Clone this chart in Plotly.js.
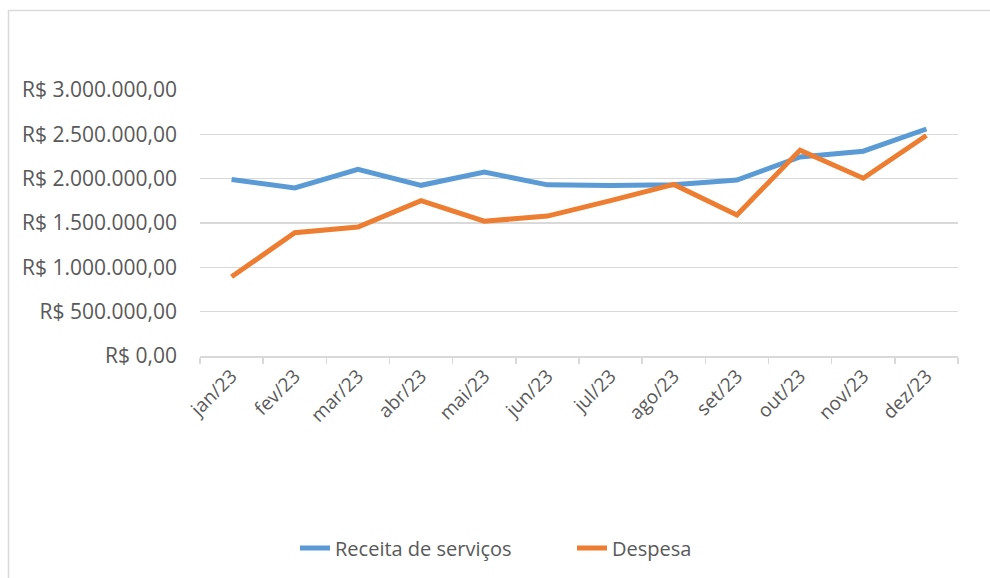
<!DOCTYPE html>
<html>
<head>
<meta charset="utf-8">
<script src="https://cdn.plot.ly/plotly-3.0.1.min.js"></script>
<style>
  html, body { margin: 0; padding: 0; background: #fff; }
  #chart { width: 990px; height: 578px; }
</style>
</head>
<body>
<div id="chart"></div>
<script>
const months = ["jan/23","fev/23","mar/23","abr/23","mai/23","jun/23","jul/23","ago/23","set/23","out/23","nov/23","dez/23"];
const receita = [1990000, 1895000, 2105000, 1925000, 2075000, 1930000, 1922000, 1932000, 1985000, 2245000, 2310000, 2560000];
const despesa = [893000, 1390000, 1455000, 1752000, 1520000, 1578000, 1752000, 1935000, 1590000, 2322000, 2005000, 2487000];
const seriesNames = ["Receita de serviços", "Despesa"];

const textColor = "#595959";
const gridColor = "#d9d9d9";
const fontFam = "'Open Sans', 'Noto Sans', sans-serif";

const traces = [
  { x: months, y: receita, name: seriesNames[0], type: "scatter", mode: "lines",
    line: { color: "#5B9BD5", width: 5 }, legend: "legend" },
  { x: months, y: despesa, name: seriesNames[1], type: "scatter", mode: "lines",
    line: { color: "#ED7D31", width: 5 }, legend: "legend2" }
];

const plotL = 200, plotR = 958, plotT = 90, plotB = 356;
const pw = plotR - plotL, ph = plotB - plotT;
const legY = (578 - 548) / 578;

function legendAt(px) {
  return {
    orientation: "h", xref: "container", x: px / 990, xanchor: "left",
    yref: "container", y: legY, yanchor: "middle",
    font: { size: 20, color: textColor, family: fontFam },
    bgcolor: "rgba(0,0,0,0)"
  };
}

const layout = {
  width: 990, height: 578,
  margin: { l: plotL, r: 990 - plotR, t: plotT, b: 578 - plotB, pad: 0 },
  paper_bgcolor: "#ffffff",
  plot_bgcolor: "#ffffff",
  separators: ",.",
  font: { family: fontFam, color: textColor, size: 21 },
  showlegend: true,
  legend: legendAt(295),
  legend2: legendAt(572),
  xaxis: {
    type: "category", range: [-0.5, 11.5],
    showgrid: false, showline: true, linecolor: gridColor, linewidth: 1.5,
    ticks: "outside", tickson: "boundaries", ticklen: 6, tickcolor: gridColor, tickwidth: 1.5,
    tickangle: -45, tickfont: { size: 19, color: textColor, family: fontFam },
    zeroline: false, fixedrange: true
  },
  yaxis: {
    range: [0, 3000000], dtick: 500000, tick0: 0,
    tickprefix: "R$ ", tickformat: ",.2f",
    showgrid: true, gridcolor: gridColor, gridwidth: 1.5,
    showline: false, zeroline: false, ticks: "",
    ticklabelstandoff: 22,
    tickfont: { size: 21, color: textColor, family: fontFam },
    fixedrange: true
  },
  shapes: [
    { type: "rect", xref: "paper", yref: "paper",
      x0: (8.5 - plotL) / pw, x1: (1000 - plotL) / pw,
      y0: (plotB - 600) / ph, y1: (plotB - 10.5) / ph,
      line: { color: gridColor, width: 1.5 }, fillcolor: "rgba(0,0,0,0)", layer: "below" }
  ]
};

Plotly.newPlot("chart", traces, layout, { displayModeBar: false, staticPlot: true });
</script>
</body>
</html>
